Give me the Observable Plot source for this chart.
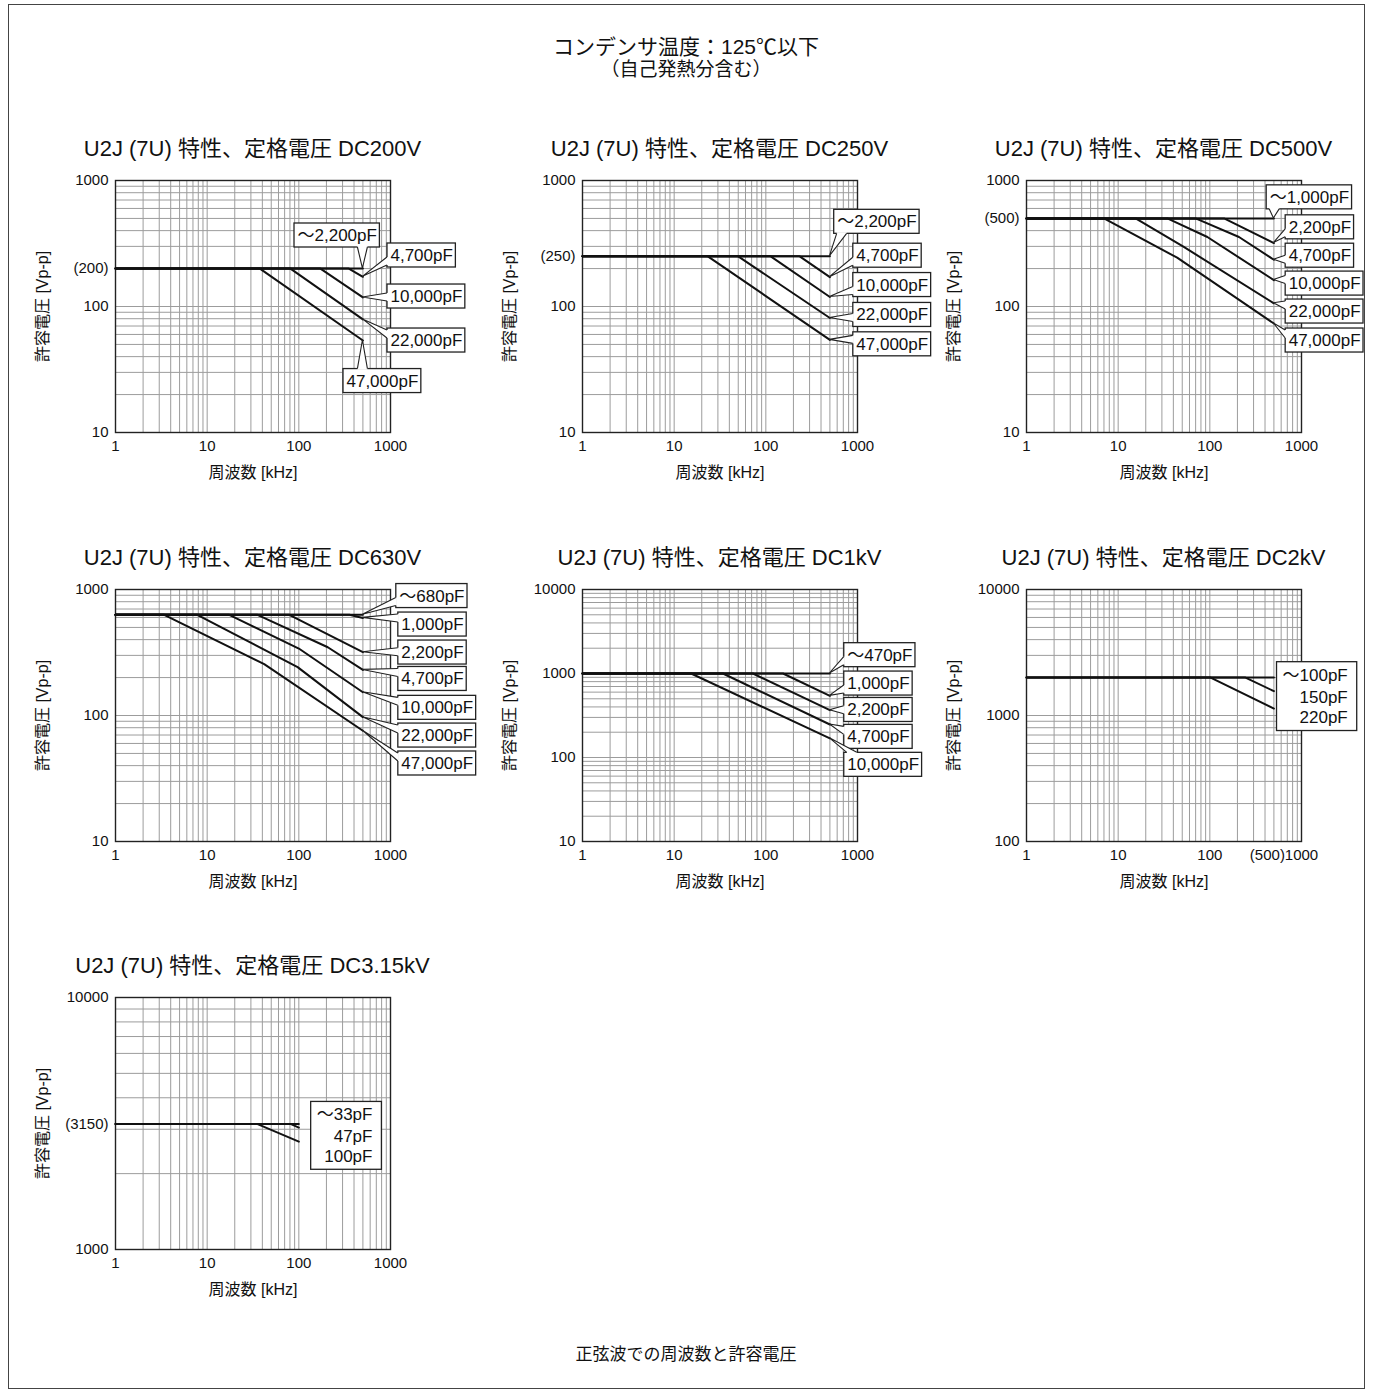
<!DOCTYPE html>
<html><head><meta charset="utf-8">
<script src="https://cdn.jsdelivr.net/npm/d3@7"></script>
<script src="https://cdn.jsdelivr.net/npm/@observablehq/plot@0.6"></script>
<style>
body{margin:0;background:#fff;}
#page{position:relative;width:1373px;height:1398px;font-family:"Liberation Sans",Arial,"Noto Sans CJK JP",sans-serif;color:#111;overflow:hidden;}
.border{position:absolute;left:8px;top:4px;width:1357px;height:1385px;border:1px solid #444;box-sizing:border-box;}
.t{position:absolute;white-space:nowrap;transform:translateX(-50%);line-height:1;}
.chart{position:absolute;}
.chart svg{max-width:none !important;}
</style></head>
<body><div id="page"><div class="border"></div></div>
<script>
// ---------- text ----------
const mainTitle1 = "コンデンサ温度：125℃以下";
const mainTitle2 = "（自己発熱分含む）";
const caption = "正弦波での周波数と許容電圧";
const chartTitles = [
  "U2J (7U) 特性、定格電圧 DC200V","U2J (7U) 特性、定格電圧 DC250V","U2J (7U) 特性、定格電圧 DC500V",
  "U2J (7U) 特性、定格電圧 DC630V","U2J (7U) 特性、定格電圧 DC1kV","U2J (7U) 特性、定格電圧 DC2kV",
  "U2J (7U) 特性、定格電圧 DC3.15kV"];
const xAxisLabel = "周波数 [kHz]";
const yAxisLabel = "許容電圧 [Vp-p]";

// ---------- ticks ----------
const xTicks = [1, 10, 100, 1000];
const xTickLabels = ["1", "10", "100", "1000"];
const xTicks2k = [1, 10, 100, 1000];
const xTickLabels2k = ["1", "10", "100", "1000"];
const xExtraTick2k = [500];
const xExtraTickLabel2k = ["(500)"];

// ---------- DC200V ----------
const dc200Names = ["〜2,200pF","4,700pF","10,000pF","22,000pF","47,000pF"];
const dc200Freq = [[1,500],[1,351,500],[1,172,500],[1,81,500],[1,37.6,500]];
const dc200Volt = [[200,200],[200,200,172],[200,200,118],[200,200,79],[200,200,53.7]];
const dc200LabelF = [89.7, 927, 927, 927, 307];
const dc200LabelV = [366, 254, 120, 53.7, 25.6];
const dc200YDomain = [10, 1000];
const dc200YTicks = [10, 100, 200, 1000];
const dc200YTickLabels = ["10", "100", "(200)", "1000"];

// ---------- DC250V ----------
const dc250Names = ["〜2,200pF","4,700pF","10,000pF","22,000pF","47,000pF"];
const dc250Freq = [[1,500],[1,234,500],[1,113,500],[1,50,500],[1,23.3,500]];
const dc250Volt = [[250,250],[250,250,171],[250,250,119],[250,250,81],[250,250,54.3]];
const dc250LabelF = [557, 900, 900, 900, 900];
const dc250LabelV = [470, 253, 148, 85.7, 50.1];
const dc250YDomain = [10, 1000];
const dc250YTicks = [10, 100, 250, 1000];
const dc250YTickLabels = ["10", "100", "(250)", "1000"];

// ---------- DC500V ----------
const dc500Names = ["〜1,000pF","2,200pF","4,700pF","10,000pF","22,000pF","47,000pF"];
const dc500Freq = [[1,500],[1,143,500],[1,70,208,500],[1,34.4,94,500],[1,15.5,52,500],[1,7,44,500]];
const dc500Volt = [[500,500],[500,500,319],[500,500,356,235],[500,500,356,162],[500,500,297,106],[500,500,244,73.3]];
const dc500LabelF = [417, 672, 672, 672, 672, 672];
const dc500LabelV = [735, 425, 253, 152, 91.2, 53.7];
const dc500YDomain = [10, 1000];
const dc500YTicks = [10, 100, 500, 1000];
const dc500YTickLabels = ["10", "100", "(500)", "1000"];

// ---------- DC630V ----------
const dc630Names = ["〜680pF","1,000pF","2,200pF","4,700pF","10,000pF","22,000pF","47,000pF"];
const dc630Freq = [[1,500],[1,356,500],[1,78.7,500],[1,35.4,207,500],[1,17.4,100,500],[1,7.8,97,500],[1,3.4,41.9,500]];
const dc630Volt = [[630,630],[630,630,595],[630,630,318],[630,630,348,230],[630,630,340,153],[630,630,242,97],[630,630,256,75.7]];
const dc630LabelF = [1157, 1217, 1217, 1217, 1217, 1217, 1217];
const dc630LabelV = [887, 527, 316, 195, 115, 69.3, 41.6];
const dc630YDomain = [10, 1000];
const dc630YTicks = [10, 100, 1000];
const dc630YTickLabels = ["10", "100", "1000"];

// ---------- DC1kV ----------
const dc1kNames = ["〜470pF","1,000pF","2,200pF","4,700pF","10,000pF"];
const dc1kFreq = [[1,500],[1,154,500],[1,72.3,500],[1,34,500],[1,15.3,500]];
const dc1kVolt = [[1000,1000],[1000,1000,542],[1000,1000,366],[1000,1000,247],[1000,1000,169]];
const dc1kLabelF = [717, 717, 717, 717, 717];
const dc1kLabelV = [1652, 759, 368, 176, 81.8];
const dc1kYDomain = [10, 10000];
const dc1kYTicks = [10, 100, 1000, 10000];
const dc1kYTickLabels = ["10", "100", "1000", "10000"];

// ---------- DC2kV ----------
const dc2kNames = ["〜100pF","150pF","220pF"];
const dc2kFreq = [[1,500],[1,245,500],[1,102,500]];
const dc2kVolt = [[2000,2000],[2000,2000,1560],[2000,2000,1135]];
const dc2kLabelF = [3193, 3193, 3193];
const dc2kLabelV = [2089, 1400, 955];
const dc2kYDomain = [100, 10000];
const dc2kYTicks = [100, 1000, 10000];
const dc2kYTickLabels = ["100", "1000", "10000"];

// ---------- DC3.15kV ----------
const dc3kNames = ["〜33pF","47pF","100pF"];
const dc3kFreq = [[1,100],[1,81,100],[1,35,100]];
const dc3kVolt = [[3150,3150],[3150,3150,3047],[3150,3150,2680]];
const dc3kLabelF = [635, 635, 635];
const dc3kLabelV = [3420, 2800, 2333];
const dc3kYDomain = [1000, 10000];
const dc3kYTicks = [1000, 3150, 10000];
const dc3kYTickLabels = ["1000", "(3150)", "10000"];

const FONT = '"Liberation Sans", Arial, "Noto Sans CJK JP", sans-serif';

const charts = [
  {title: chartTitles[0], names: dc200Names, freq: dc200Freq, volt: dc200Volt, labelF: dc200LabelF, labelV: dc200LabelV, yDomain: dc200YDomain, yTicks: dc200YTicks, yTickLabels: dc200YTickLabels, xTicks, xTickLabels, left: 115, top: 180},
  {title: chartTitles[1], names: dc250Names, freq: dc250Freq, volt: dc250Volt, labelF: dc250LabelF, labelV: dc250LabelV, yDomain: dc250YDomain, yTicks: dc250YTicks, yTickLabels: dc250YTickLabels, xTicks, xTickLabels, left: 582, top: 180},
  {title: chartTitles[2], names: dc500Names, freq: dc500Freq, volt: dc500Volt, labelF: dc500LabelF, labelV: dc500LabelV, yDomain: dc500YDomain, yTicks: dc500YTicks, yTickLabels: dc500YTickLabels, xTicks, xTickLabels, left: 1026, top: 180},
  {title: chartTitles[3], names: dc630Names, freq: dc630Freq, volt: dc630Volt, labelF: dc630LabelF, labelV: dc630LabelV, yDomain: dc630YDomain, yTicks: dc630YTicks, yTickLabels: dc630YTickLabels, xTicks, xTickLabels, left: 115, top: 589},
  {title: chartTitles[4], names: dc1kNames, freq: dc1kFreq, volt: dc1kVolt, labelF: dc1kLabelF, labelV: dc1kLabelV, yDomain: dc1kYDomain, yTicks: dc1kYTicks, yTickLabels: dc1kYTickLabels, xTicks, xTickLabels, left: 582, top: 589},
  {title: chartTitles[5], names: dc2kNames, freq: dc2kFreq, volt: dc2kVolt, labelF: dc2kLabelF, labelV: dc2kLabelV, yDomain: dc2kYDomain, yTicks: dc2kYTicks, yTickLabels: dc2kYTickLabels, xTicks: xTicks2k, xTickLabels: xTickLabels2k, extraX: xExtraTick2k, extraXLabels: xExtraTickLabel2k, legend: true, left: 1026, top: 589},
  {title: chartTitles[6], names: dc3kNames, freq: dc3kFreq, volt: dc3kVolt, labelF: dc3kLabelF, labelV: dc3kLabelV, yDomain: dc3kYDomain, yTicks: dc3kYTicks, yTickLabels: dc3kYTickLabels, xTicks, xTickLabels, legend: true, left: 115, top: 997}
];

const W = 275, H = 252, mL = 95, mR = 90, mT = 12, mB = 55;
const page = document.getElementById("page");

function addText(txt, cx, top, size) {
  const d = document.createElement("div");
  d.className = "t"; d.textContent = txt;
  d.style.left = cx + "px"; d.style.top = top + "px"; d.style.fontSize = size + "px";
  page.appendChild(d);
}

function drawChart(cfg) {
  const xDomain = [1, 1000];
  const xGrid = d3.scaleLog().domain(xDomain).ticks(10);
  const yGrid = d3.scaleLog().domain(cfg.yDomain).ticks(10);
  const rows = [];
  cfg.names.forEach((n, i) => cfg.freq[i].forEach((f, j) => rows.push({name: n, f, v: cfg.volt[i][j]})));
  const xMap = new Map(cfg.xTicks.map((t, i) => [t, cfg.xTickLabels[i]]));
  const yMap = new Map(cfg.yTicks.map((t, i) => [t, cfg.yTickLabels[i]]));
  const labelRows = cfg.names.map((n, i) => ({name: n, f: cfg.labelF[i], v: cfg.labelV[i]}));
  const marks = [
    Plot.ruleX(xGrid, {stroke: "#9c9c9c", strokeWidth: 1}),
    Plot.ruleY(yGrid, {stroke: "#9c9c9c", strokeWidth: 1}),
    Plot.frame({stroke: "#222", strokeWidth: 1.4}),
    Plot.line(rows, {x: "f", y: "v", z: "name", stroke: "#111", strokeWidth: 2}),
    Plot.axisX({ticks: cfg.xTicks, tickSize: 0, tickPadding: 8, tickFormat: d => xMap.get(d), label: null, fontSize: 15}),
    Plot.axisY({ticks: cfg.yTicks, tickSize: 0, tickPadding: 7, tickFormat: d => yMap.get(d), label: null, fontSize: 15}),
    Plot.text([xAxisLabel], {frameAnchor: "bottom", textAnchor: "middle", lineAnchor: "middle", dy: 40, fontSize: 16}),
    Plot.text([yAxisLabel], {frameAnchor: "left", textAnchor: "middle", lineAnchor: "middle", dx: -73, rotate: -90, fontSize: 16}),
    Plot.text(labelRows, {x: "f", y: "v", text: "name", textAnchor: cfg.legend ? "end" : "start", dx: cfg.legend ? 0 : 3, fontSize: 17, fill: "#111", ariaDescription: "lbl"})
  ];
  if (cfg.extraX) {
    marks.push(Plot.text(cfg.extraX, {x: d => d, text: (d, i) => cfg.extraXLabels[i], frameAnchor: "bottom", lineAnchor: "top", dy: 8, dx: 11, textAnchor: "end", fontSize: 15}));
  }
  const plot = Plot.plot({
    width: mL + W + mR, height: mT + H + mB,
    marginLeft: mL, marginRight: mR, marginTop: mT, marginBottom: mB,
    x: {type: "log", domain: xDomain},
    y: {type: "log", domain: cfg.yDomain},
    style: {fontFamily: FONT, fontSize: "15px", color: "#111", background: "transparent", overflow: "visible", maxWidth: "none"},
    marks
  });
  const wrap = document.createElement("div");
  wrap.className = "chart";
  wrap.style.left = (cfg.left - mL) + "px";
  wrap.style.top = (cfg.top - mT) + "px";
  wrap.style.width = (mL + W + mR) + "px";
  wrap.appendChild(plot);
  page.appendChild(wrap);
  addText(cfg.title, cfg.left + W / 2, cfg.top - 42, 22);
  try { decorate(plot, cfg); } catch (e) { console.error(e); }
}

function decorate(plot, cfg) {
  const svg = d3.select(plot);
  const xs = plot.scale("x"), ys = plot.scale("y");
  const sr = plot.getBoundingClientRect();
  const lblG = svg.select('g[aria-description="lbl"]');
  const texts = lblG.selectAll("text").nodes();
  const g = svg.insert("g", 'g[aria-description="lbl"]');
  const rects = texts.map(t => { const r = t.getBoundingClientRect(); return {x: r.left - sr.left, w: r.width}; });
  if (cfg.legend) {
    const cys = cfg.labelV.map(v => ys.apply(v));
    const x0 = d3.min(rects, r => r.x) - 6, x1 = d3.max(rects, r => r.x + r.w) + 9;
    const y0 = d3.min(cys) - 13, y1 = d3.max(cys) + 13;
    g.append("rect").attr("x", x0).attr("y", y0).attr("width", x1 - x0).attr("height", y1 - y0)
      .attr("fill", "#fff").attr("stroke", "#222").attr("stroke-width", 1.3);
    return;
  }
  cfg.names.forEach((n, i) => {
    const bx = xs.apply(cfg.labelF[i]), cy = ys.apply(cfg.labelV[i]);
    const bw = (rects[i] ? rects[i].w : 70) + 6, bh = 24, by = cy - bh / 2;
    const fr = cfg.freq[i], vr = cfg.volt[i];
    const ax = xs.apply(fr[fr.length - 1]), ay = ys.apply(vr[vr.length - 1]);
    g.append("rect").attr("x", bx).attr("y", by).attr("width", bw).attr("height", bh)
      .attr("fill", "#fff").attr("stroke", "#222").attr("stroke-width", 1.3);
    const dxo = Math.max(bx - ax, 0, ax - (bx + bw));
    const dyo = Math.max(by - ay, 0, ay - (by + bh));
    let p1, p2;
    if (dxo >= dyo) {
      const ex = ax < bx ? bx : bx + bw;
      const yy = Math.max(by + 6, Math.min(by + bh - 6, ay));
      p1 = [ex, yy - 4]; p2 = [ex, yy + 4];
    } else {
      const ey = ay < by ? by : by + bh;
      const xx = Math.max(bx + 8, Math.min(bx + bw - 8, ax));
      p1 = [xx - 5, ey]; p2 = [xx + 5, ey];
    }
    g.append("polygon").attr("points", [p1, [ax, ay], p2].map(p => p.join(",")).join(" ")).attr("fill", "#fff");
    g.append("line").attr("x1", p1[0]).attr("y1", p1[1]).attr("x2", p2[0]).attr("y2", p2[1]).attr("stroke", "#fff").attr("stroke-width", 2.2);
    g.append("polyline").attr("points", [p1, [ax, ay], p2].map(p => p.join(",")).join(" "))
      .attr("fill", "none").attr("stroke", "#222").attr("stroke-width", 1.1);
  });
}

addText(mainTitle1, 686, 36, 21);
addText(mainTitle2, 686, 60, 19);
charts.forEach(drawChart);
addText(caption, 686, 1346, 17);
</script>
</body></html>
